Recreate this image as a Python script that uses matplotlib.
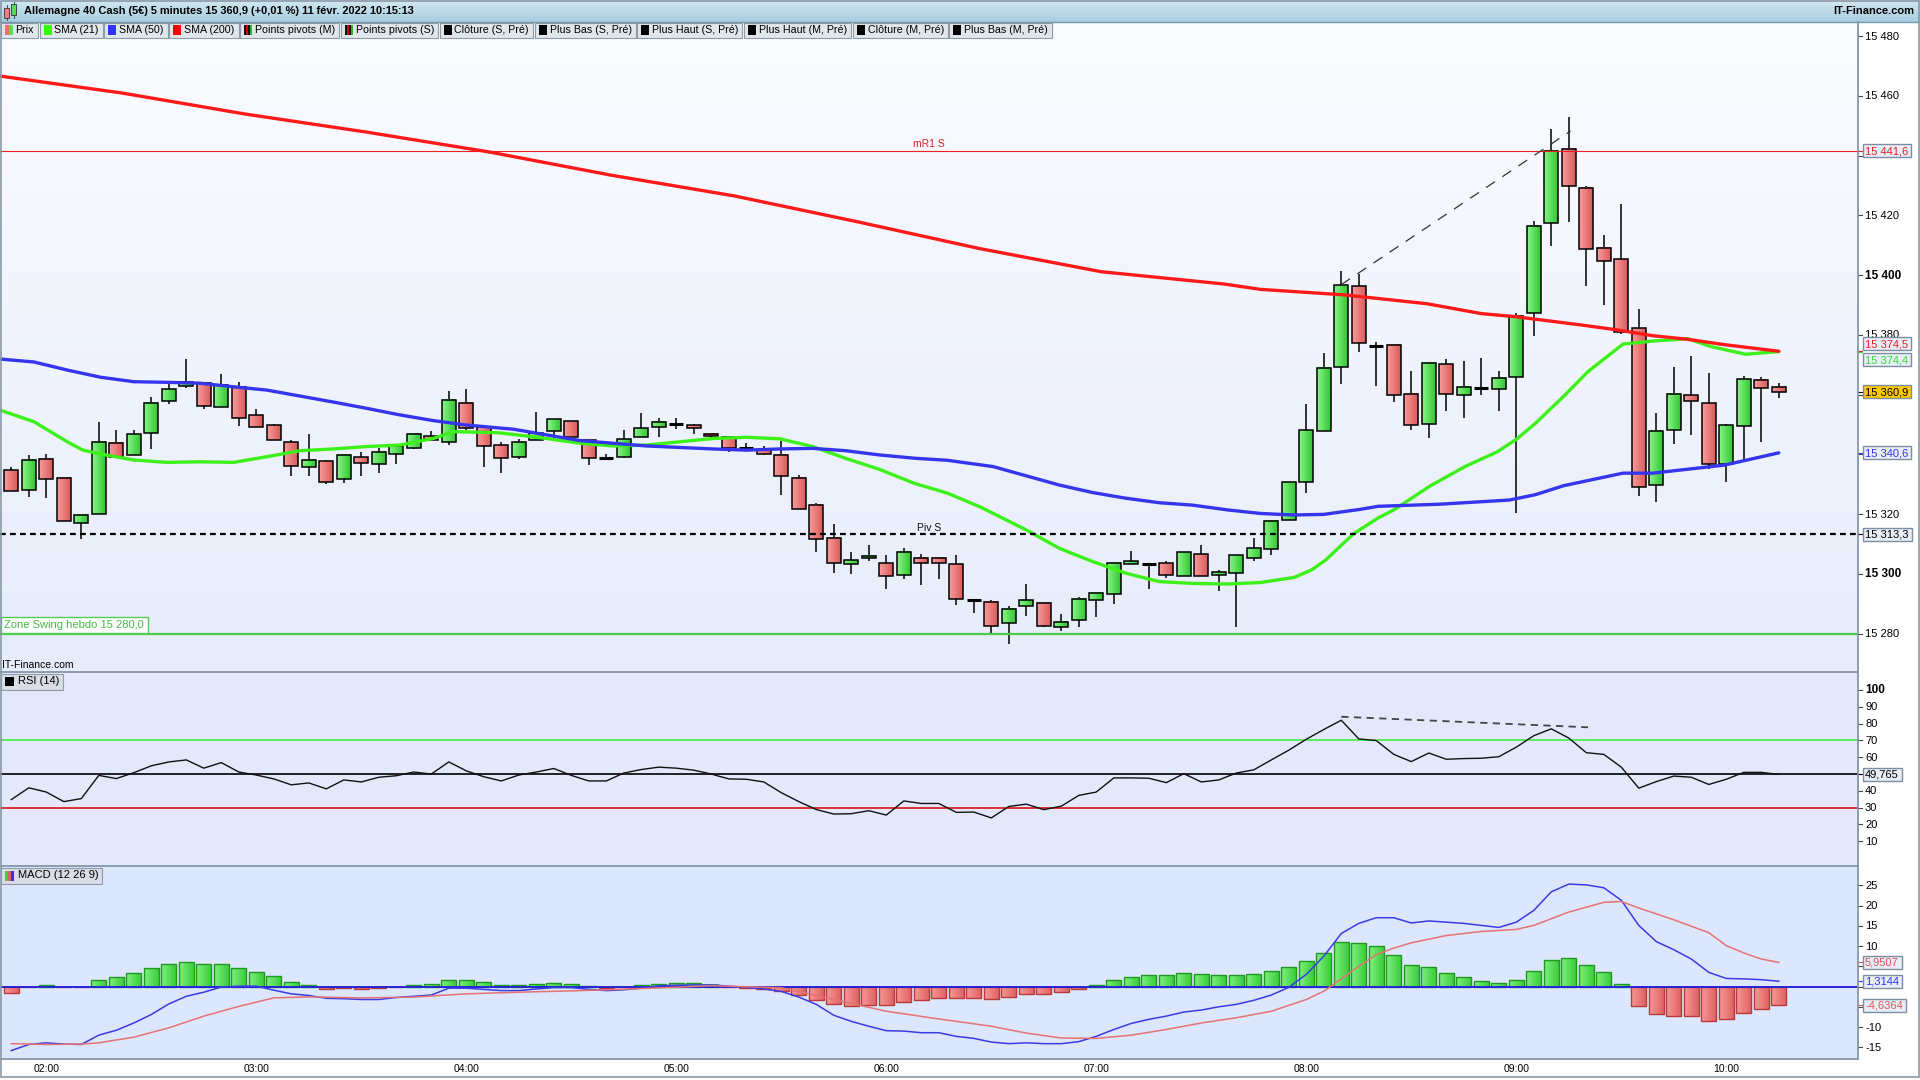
import numpy as np
import matplotlib
matplotlib.use("Agg")
import matplotlib.pyplot as plt
from matplotlib.patches import Rectangle
from matplotlib.lines import Line2D
from matplotlib.colors import LinearSegmentedColormap
import matplotlib.transforms as mtransforms

plt.rcParams['font.family'] = ['Liberation Sans', 'DejaVu Sans']

# ---------------- DATA ----------------
first_bar = "01:50"
bar_minutes = 5
time_labels = ["02:00", "03:00", "04:00", "05:00", "06:00", "07:00", "08:00", "09:00", "10:00"]

opens = [15334.6, 15327.9, 15338.6, 15332.0, 15316.9, 15319.9, 15343.7, 15339.7, 15347.0, 15357.7,
         15362.9, 15363.8, 15355.7, 15362.6, 15353.0, 15349.7, 15344.0, 15335.6, 15337.6, 15331.6,
         15339.0, 15336.6, 15340.0, 15342.0, 15346.0, 15344.0, 15357.1, 15349.0, 15343.0, 15339.0,
         15344.7, 15347.7, 15351.0, 15344.7, 15339.0, 15339.0, 15345.7, 15349.0, 15350.0, 15349.7,
         15346.7, 15345.7, 15342.0, 15341.3, 15339.7, 15332.0, 15322.9, 15311.9, 15303.2, 15305.2,
         15303.5, 15299.5, 15305.2, 15305.2, 15303.2, 15291.1, 15290.5, 15283.4, 15289.1, 15290.1,
         15282.1, 15284.4, 15291.1, 15293.1, 15303.2, 15303.2, 15303.5, 15299.2, 15306.5, 15299.5,
         15300.2, 15305.2, 15308.2, 15317.9, 15330.6, 15347.7, 15369.2, 15396.2, 15376.4, 15376.5,
         15360.1, 15350.1, 15370.1, 15359.7, 15362.1, 15361.8, 15365.8, 15387.2, 15417.4, 15442.1,
         15429.3, 15409.2, 15405.3, 15382.2, 15329.6, 15348.0, 15359.7, 15357.1, 15336.7, 15349.5,
         15364.8, 15362.7]
highs = [15335.6, 15339.8, 15340.1, 15332.0, 15319.6, 15350.8, 15348.1, 15348.1, 15359.1, 15363.5,
         15371.9, 15363.8, 15366.9, 15364.1, 15355.2, 15350.0, 15344.8, 15346.7, 15338.1, 15339.7,
         15340.7, 15342.0, 15342.7, 15346.7, 15347.8, 15361.1, 15361.7, 15349.0, 15344.0, 15345.0,
         15354.2, 15351.7, 15351.0, 15344.7, 15340.0, 15348.1, 15353.8, 15352.1, 15352.1, 15350.0,
         15346.7, 15345.7, 15343.7, 15342.7, 15344.3, 15333.0, 15323.6, 15316.6, 15307.2, 15309.5,
         15306.2, 15308.5, 15306.5, 15305.2, 15306.2, 15291.1, 15291.1, 15289.2, 15296.5, 15290.1,
         15286.4, 15292.1, 15293.5, 15303.5, 15307.6, 15303.2, 15304.2, 15307.2, 15309.5, 15301.2,
         15306.2, 15311.9, 15317.9, 15330.6, 15356.8, 15373.8, 15401.2, 15400.4, 15377.6, 15376.5,
         15367.9, 15370.7, 15371.9, 15371.2, 15372.3, 15367.8, 15387.4, 15418.2, 15448.8, 15452.9,
         15429.7, 15413.4, 15423.8, 15388.7, 15353.8, 15369.2, 15372.9, 15367.3, 15350.1, 15366.2,
         15365.8, 15363.9]
lows = [15327.6, 15325.8, 15325.5, 15317.6, 15311.5, 15319.9, 15339.0, 15339.7, 15341.7, 15356.7,
        15362.1, 15355.1, 15355.7, 15349.6, 15349.0, 15344.7, 15332.9, 15332.9, 15330.0, 15330.5,
        15332.9, 15333.9, 15336.9, 15341.7, 15344.7, 15343.0, 15348.0, 15335.9, 15333.9, 15338.5,
        15344.7, 15344.7, 15345.7, 15336.5, 15338.7, 15338.7, 15345.7, 15345.9, 15348.6, 15346.7,
        15344.7, 15340.7, 15342.0, 15339.7, 15326.5, 15321.6, 15307.4, 15300.4, 15300.1, 15304.4,
        15295.0, 15298.2, 15296.4, 15298.4, 15289.5, 15287.0, 15280.3, 15276.4, 15286.0, 15282.1,
        15281.0, 15282.1, 15285.4, 15290.0, 15303.2, 15295.0, 15298.5, 15299.2, 15299.2, 15294.1,
        15282.1, 15304.2, 15306.2, 15317.9, 15326.9, 15347.7, 15363.6, 15374.1, 15363.0, 15357.6,
        15348.0, 15345.6, 15354.6, 15352.0, 15360.0, 15354.6, 15320.5, 15379.5, 15409.6, 15417.6,
        15396.4, 15390.1, 15380.3, 15325.9, 15323.9, 15343.6, 15346.6, 15335.1, 15330.6, 15338.5,
        15344.2, 15358.7]
closes = [15327.6, 15338.0, 15331.6, 15317.6, 15319.6, 15344.0, 15339.0, 15346.7, 15357.1, 15361.7,
          15364.3, 15356.1, 15363.2, 15352.0, 15349.0, 15344.7, 15336.0, 15338.0, 15330.6, 15339.7,
          15337.0, 15340.7, 15342.7, 15346.7, 15344.7, 15358.1, 15348.7, 15342.7, 15338.7, 15344.0,
          15347.2, 15351.7, 15345.7, 15338.7, 15338.7, 15345.0, 15348.7, 15350.7, 15350.0, 15348.7,
          15346.0, 15342.0, 15342.0, 15340.0, 15332.6, 15321.6, 15311.5, 15303.5, 15304.5, 15306.1,
          15299.2, 15307.2, 15303.5, 15303.5, 15291.5, 15291.1, 15282.4, 15288.4, 15291.1, 15282.4,
          15284.0, 15291.5, 15293.5, 15303.5, 15304.2, 15303.2, 15299.5, 15307.2, 15299.2, 15300.5,
          15306.2, 15308.5, 15317.6, 15330.6, 15348.0, 15368.8, 15396.6, 15377.2, 15376.4, 15359.7,
          15349.7, 15370.7, 15360.1, 15362.7, 15362.1, 15365.7, 15386.4, 15416.5, 15441.6, 15429.7,
          15408.6, 15404.6, 15381.1, 15329.0, 15347.7, 15360.1, 15357.7, 15336.7, 15349.7, 15365.1,
          15362.1, 15360.9]

# moving averages, read at bar positions
sma21_pos = [-0.65, 1.3, 3.2, 4.1, 5.1, 7.0, 8.9, 10.8, 12.7, 14.6, 16.5, 18.4, 20.3, 22.2, 24.1, 25.3,
             27.9, 30.6, 32.5, 34.4, 36.3, 38.2, 40.1, 42.0, 43.9, 45.8, 47.7, 49.6, 51.6, 53.5, 55.4,
             58.0, 59.9, 61.8, 63.7, 65.6, 67.5, 69.5, 71.4, 73.3, 74.3, 75.1, 76.7, 78.1, 79.0, 81.1,
             83.1, 84.9, 86.0, 87.1, 88.7, 90.1, 92.1, 93.8, 95.8, 97.1, 99.1, 101.0]
sma21_val = [15354.8, 15350.9, 15344.2, 15341.4, 15340.1, 15338.1, 15337.3, 15337.5, 15337.3, 15339.2,
             15341.2, 15341.8, 15342.6, 15343.1, 15345.3, 15347.6, 15347.2, 15345.3, 15343.7, 15342.8,
             15343.1, 15344.2, 15345.3, 15345.7, 15345.2, 15342.6, 15338.6, 15335.0, 15330.3, 15327.0,
             15322.3, 15314.7, 15308.5, 15304.1, 15300.2, 15297.4, 15296.8, 15296.6, 15297.1, 15298.8,
             15301.3, 15304.6, 15313.4, 15318.7, 15321.4, 15329.5, 15336.0, 15340.8, 15345.0, 15350.4,
             15359.4, 15367.7, 15376.9, 15377.9, 15378.7, 15376.1, 15373.5, 15374.4]
sma50_pos = [-0.65, 1.3, 3.2, 5.1, 7.0, 8.9, 10.8, 12.7, 14.6, 16.5, 18.4, 20.3, 22.2, 24.1, 26.0, 28.7,
             30.6, 32.5, 34.4, 36.3, 38.2, 40.1, 42.0, 43.9, 45.8, 47.7, 49.6, 51.6, 53.5, 56.1, 58.0,
             59.9, 61.8, 63.7, 65.6, 67.5, 69.5, 71.4, 73.3, 75.0, 77.1, 78.1, 81.6, 85.6, 87.1, 88.7,
             92.1, 93.8, 97.9, 101.0]
sma50_val = [15371.9, 15370.9, 15368.2, 15365.8, 15364.3, 15364.1, 15363.8, 15362.6, 15361.5, 15359.5,
             15357.5, 15355.4, 15353.2, 15351.3, 15349.8, 15348.4, 15346.5, 15344.6, 15343.7, 15342.8,
             15342.3, 15341.8, 15341.4, 15341.8, 15342.0, 15341.2, 15339.8, 15338.7, 15338.0, 15335.9,
             15332.8, 15329.7, 15327.2, 15325.3, 15323.8, 15323.0, 15321.4, 15320.2, 15319.7, 15319.9,
             15321.6, 15322.6, 15323.3, 15324.7, 15326.5, 15329.5, 15333.7, 15333.7, 15336.4, 15340.5]
sma200_pos = [-0.65, 6.35, 13.35, 20.35, 27.3, 34.3, 41.3, 48.3, 55.3, 62.3, 69.3, 71.4, 76.1, 80.9,
              84.0, 85.9, 89.7, 91.7, 93.8, 95.8, 97.9, 101.0]
sma200_val = [15466.6, 15460.9, 15453.9, 15447.8, 15441.2, 15433.4, 15426.5, 15417.9, 15408.9, 15401.1,
              15397.0, 15395.2, 15393.4, 15390.4, 15387.1, 15386.1, 15383.3, 15381.7, 15379.7, 15378.5,
              15376.7, 15374.5]

rsi_vals = [34.8, 41.8, 39.3, 33.6, 35.4, 49.2, 47.3, 50.8, 54.9, 57.2,
            58.4, 53.5, 56.8, 51.2, 49.4, 47.1, 43.6, 44.7, 41.2, 46.5,
            45.3, 48.1, 49.0, 51.2, 50.0, 57.2, 51.9, 48.4, 45.9, 49.4,
            51.2, 53.3, 49.2, 45.9, 45.9, 50.6, 52.7, 54.1, 53.5, 52.3,
            50.0, 47.1, 46.9, 45.3, 38.9, 33.6, 28.9, 26.2, 26.4, 28.2,
            25.6, 34.0, 32.5, 32.5, 27.2, 27.4, 23.9, 30.7, 32.1, 28.8,
            30.9, 37.3, 39.3, 47.7, 47.7, 47.5, 44.9, 50.2, 45.3, 46.5,
            50.6, 52.5, 58.4, 64.2, 70.7, 76.5, 82.0, 70.9, 69.9, 61.7,
            57.4, 62.5, 58.8, 59.2, 59.4, 60.3, 66.0, 72.8, 76.9, 71.4,
            62.7, 61.7, 54.1, 41.6, 45.5, 48.8, 48.1, 43.8, 46.9, 51.0,
            51.0, 49.8]

macd_vals = [-15.8, -14.3, -13.9, -14.2, -14.3, -12.0, -10.8, -9.0, -6.9, -4.3,
             -2.4, -1.4, -0.1, 0.1, 0.1, -0.9, -1.8, -2.2, -2.9, -3.0,
             -3.2, -3.2, -2.7, -2.4, -2.1, -0.4, -0.4, -0.7, -1.0, -1.0,
             -0.6, -0.25, -0.25, -0.7, -1.0, -0.8, -0.4, 0.2, 0.3, 0.4,
             0.4, 0.1, -0.2, -0.6, -1.2, -2.6, -4.4, -7.1, -8.6, -9.8,
             -10.9, -11.0, -11.4, -11.4, -12.3, -12.8, -13.7, -14.1, -13.9, -14.1,
             -14.1, -13.6, -12.3, -10.6, -9.1, -8.1, -7.3, -6.3, -5.8, -5.0,
             -4.4, -3.4, -2.1, -0.2, 3.0, 7.5, 13.1, 15.6, 17.0, 17.0,
             15.7, 16.2, 15.9, 15.6, 15.1, 14.6, 15.9, 18.8, 23.4, 25.3,
             25.1, 24.4, 21.3, 15.1, 11.1, 9.1, 6.8, 3.5, 2.0, 1.9,
             1.7, 1.31]
signal_pos = [0, 2, 4, 5, 7, 9, 11, 13, 15, 17, 20, 23, 26, 29, 32, 35, 38, 40, 44, 47, 50, 53, 56,
              58, 60, 62, 64, 66, 68, 70, 72, 74, 75, 76, 77, 78, 79, 80, 82, 84, 86, 87, 89, 91, 92,
              93, 95, 97, 98, 99, 100, 101]
signal_vals = [-14.1, -14.3, -14.2, -13.9, -12.5, -10.2, -7.3, -4.9, -2.8, -2.55, -2.8, -2.6, -1.8,
               -1.4, -1.07, -0.66, -0.16, 0.2, -0.3, -3.2, -6.1, -8.0, -9.8, -11.5, -12.7, -12.8, -12.0,
               -10.6, -9.0, -7.7, -6.1, -3.2, -1.15, 1.9, 5.0, 7.9, 9.5, 10.8, 12.6, 13.6, 14.1, 15.1,
               18.4, 20.8, 21.0, 19.4, 16.5, 13.3, 10.1, 8.3, 6.8, 5.95]
hist_vals = [-1.65, 0.0, 0.41, 0.0, 0.0, 1.65, 2.39, 3.37, 4.6, 5.6,
             6.1, 5.6, 5.6, 4.6, 3.6, 2.63, 1.15, 0.41, -0.58, -0.41,
             -0.58, -0.33, 0.0, 0.41, 0.66, 1.65, 1.65, 1.15, 0.41, 0.41,
             0.66, 0.9, 0.66, 0.16, -0.33, 0.0, 0.41, 0.66, 0.9, 0.9,
             0.5, -0.1, -0.4, -0.58, -1.07, -2.06, -3.2, -4.3, -4.8, -4.5,
             -4.5, -3.8, -3.3, -2.8, -2.8, -2.8, -3.05, -2.55, -1.8, -1.8,
             -1.3, -0.58, 0.41, 1.65, 2.39, 2.9, 2.9, 3.4, 3.1, 2.9,
             2.9, 3.1, 3.9, 4.9, 6.3, 8.3, 11.0, 10.8, 10.0, 7.8,
             5.3, 4.9, 3.4, 2.4, 1.4, 0.9, 1.65, 3.9, 6.6, 7.1,
             5.3, 3.6, 0.66, -4.8, -6.75, -7.2, -7.2, -8.5, -8.0, -6.5,
             -5.5, -4.64]

mr1_s = 15441.6
pivot_s = 15313.3
zone_swing = 15280.0
trend_pos = [76.0, 89.1]
trend_val = [15396.8, 15448.2]
rsi_div_pos = [76.0, 90.1]
rsi_div_val = [84.1, 77.8]

last_price = 15360.9
last_sma200 = 15374.5
last_sma21 = 15374.4
last_sma50 = 15340.6
legend_labels = ["Prix", "SMA (21)", "SMA (50)", "SMA (200)", "Points pivots (M)", "Points pivots (S)",
                 "Clôture (S, Pré)", "Plus Bas (S, Pré)", "Plus Haut (S, Pré)", "Plus Haut (M, Pré)",
                 "Clôture (M, Pré)", "Plus Bas (M, Pré)"]
legend_icons = ["prix", "#33ff00", "#3333ff", "#ff0000", "piv", "piv", "k", "k", "k", "k", "k", "k"]
title = "Allemagne 40 Cash (5€) 5 minutes 15 360,9 (+0,01 %) 11 févr. 2022 10:15:13"

# ---------------- FIGURE ----------------
W, H = 1920, 1080
fig = plt.figure(figsize=(W / 100, H / 100), dpi=100)
fig.patch.set_facecolor('white')
PX = mtransforms.Affine2D().scale(1 / W, -1 / H).translate(0, 1) + fig.transFigure
R = 1858


def t2i(t):
    h, m = map(int, t.split(':'))
    h0, m0 = map(int, first_bar.split(':'))
    return ((h * 60 + m) - (h0 * 60 + m0)) / bar_minutes


def panel(top, bottom):
    a = fig.add_axes([0, 1 - bottom / H, R / W, (bottom - top) / H])
    for s in a.spines.values():
        s.set_visible(False)
    a.set_xticks([])
    a.set_yticks([])
    return a


XL = (-0.646, 105.526)
ax = panel(22, 672)
ax_rsi = panel(672, 866)
ax_macd = panel(866, 1059)
ax.set_xlim(*XL); ax.set_ylim(15267.15, 15484.69)
ax_rsi.set_xlim(*XL); ax_rsi.set_ylim(-4.7, 110.7)
ax_macd.set_xlim(*XL); ax_macd.set_ylim(-17.89, 29.77)
for a in (ax, ax_rsi, ax_macd):
    a.set_autoscale_on(False)

ax_rsi.set_facecolor('#e3e9fb')
ax_macd.set_facecolor('#dce6fc')
bg = LinearSegmentedColormap.from_list('bg', ['#fbfcff', '#e6ecfa'])
ax.imshow(np.linspace(0, 1, 256)[:, None], cmap=bg, extent=[XL[0], XL[1], 15267.15, 15484.69],
          aspect='auto', zorder=0)

idx = np.arange(len(opens))
hgrad = np.linspace(0, 1, 64)[None, :]
red_cm = LinearSegmentedColormap.from_list('rc', ['#f99c9c', '#d95a5a'])
green_cm = LinearSegmentedColormap.from_list('gc', ['#8af58a', '#30c630'])

# candles
bw = 0.8
ax.vlines(idx, lows, highs, color='black', lw=1.1, zorder=2)
for i, o, c in zip(idx, opens, closes):
    lo, hi = min(o, c), max(o, c)
    if hi - lo < 0.5:
        ax.hlines((o + c) / 2, i - bw / 2, i + bw / 2, color='black', lw=2.2, zorder=3)
        continue
    cm = green_cm if c > o else red_cm
    ax.imshow(hgrad, cmap=cm, extent=[i - bw / 2, i + bw / 2, lo, hi], aspect='auto',
              zorder=2.5, interpolation='bilinear')
    ax.add_patch(Rectangle((i - bw / 2, lo), bw, hi - lo, fill=False, ec='black', lw=1.1, zorder=3))

# levels
ax.axhline(mr1_s, color='#ee2020', lw=0.8, zorder=4)
ax.axhline(zone_swing, color='#4ccc4c', lw=1.6, zorder=4)
ax.axhline(pivot_s, color='black', lw=1.6, dashes=(2.6, 1.9), zorder=6)
ax.annotate("mR1 S", (0.5, mr1_s), xycoords=ax.get_yaxis_transform(), xytext=(0, 1.5),
            textcoords='offset points', ha='center', va='bottom', fontsize=7.5, color='#e02020', zorder=6)
ax.annotate("Piv S", (0.5, pivot_s), xycoords=ax.get_yaxis_transform(), xytext=(0, 1.0),
            textcoords='offset points', ha='center', va='bottom', fontsize=7.5, color='#111', zorder=6)

# moving averages
ax.plot(sma21_pos, sma21_val, color='#3ef01a', lw=2.4, zorder=5, solid_capstyle='round')
ax.plot(sma50_pos, sma50_val, color='#3535ee', lw=2.4, zorder=5.1, solid_capstyle='round')
ax.plot(sma200_pos, sma200_val, color='#ff1a1a', lw=2.4, zorder=5.2, solid_capstyle='round')
ax.plot(trend_pos, trend_val, color='#333333', lw=0.9, dashes=(8.5, 7), zorder=6)

# RSI
ax_rsi.axhline(70, color='#33ee33', lw=1.1, zorder=2)
ax_rsi.axhline(50, color='black', lw=1.2, zorder=2)
ax_rsi.axhline(30, color='#dd0000', lw=1.1, zorder=2)
ax_rsi.plot(idx, rsi_vals, color='#111111', lw=1.0, zorder=4)
ax_rsi.plot(rsi_div_pos, rsi_div_val, color='#444444', lw=1.3, dashes=(4, 3), zorder=4)

# MACD
hred = LinearSegmentedColormap.from_list('hr', ['#f79a9a', '#e06262'])
hgreen = LinearSegmentedColormap.from_list('hg', ['#80f080', '#3acd3a'])
hb = 0.84
for i, v in zip(idx, hist_vals):
    if v == 0:
        continue
    ax_macd.imshow(hgrad, cmap=hgreen if v > 0 else hred,
                   extent=[i - hb / 2, i + hb / 2, min(0, v), max(0, v)], aspect='auto', zorder=2)
hist_arr = np.array(hist_vals)
ax_macd.bar(idx, hist_arr, width=hb, fill=False,
            edgecolor=['#1f9a1f' if v > 0 else '#b83a3a' for v in hist_arr], lw=1.0, zorder=2.5)
ax_macd.axhline(0, color='#2626d6', lw=1.4, zorder=3)
ax_macd.plot(idx, macd_vals, color='#3b3be6', lw=1.1, zorder=4)
ax_macd.plot(signal_pos, signal_vals, color='#e57373', lw=1.1, zorder=4)

for lab in time_labels:
    ax_macd.text(t2i(lab), -0.052, lab, transform=ax_macd.get_xaxis_transform(), ha='center',
                 va='center', fontsize=7.5, clip_on=False)

# ---------------- overlays in pixel space ----------------
renderer = fig.canvas.get_renderer()


def px_text(x, y, s, **kw):
    kw.setdefault('fontsize', 8)
    kw.setdefault('va', 'center')
    kw.setdefault('ha', 'left')
    kw.setdefault('zorder', 9)
    return fig.text(x, y, s, transform=PX, **kw)


def px_rect(x, y, w, h, **kw):
    r = Rectangle((x, y), w, h, transform=PX, **kw)
    fig.add_artist(r)
    return r


def px_line(xs, ys, **kw):
    l = Line2D(xs, ys, transform=PX, **kw)
    fig.add_artist(l)
    return l


def ypx(a, v):
    return H - a.transData.transform((0, v))[1]


def fmt(v, dec):
    s = f"{abs(v):,.{dec}f}".replace(',', ' ').replace('.', ',')
    return ('-' if v < 0 else '') + s


def tick(a, v, txt=None, bold=False):
    y = ypx(a, v)
    px_line([R, R + 4], [y, y], color='#444444', lw=0.8, zorder=8)
    if txt is not None:
        px_text(R + 7, y + 0.5, txt, fontsize=8.5 if bold else 8,
                fontweight='bold' if bold else 'normal', zorder=8)


def vbox(a, v, txt, color, fc='#e8edf6', dy=0):
    y0 = ypx(a, v)
    y = y0 + dy
    px_line([R, R + 4], [y0, y0], color=color, lw=0.8, zorder=8)
    t = px_text(R + 7, y + 0.5, txt, color=color, zorder=11)
    w = t.get_window_extent(renderer).width
    px_rect(R + 5, y - 6.5, w + 5, 13, fc=fc, ec='#7c8ea0', lw=1, zorder=10)


# main axis (labels hidden under value boxes are left out)
covered_main = {15440, 15360, 15340}
for v in range(15280, 15481, 20):
    tick(ax, v, None if v in covered_main else fmt(v, 0), bold=(v % 100 == 0))
vbox(ax, mr1_s, fmt(mr1_s, 1), '#e02020')
vbox(ax, last_sma200, fmt(last_sma200, 1), '#e02020', dy=-7.5)
vbox(ax, last_sma21, fmt(last_sma21, 1), '#33dd33', dy=8.0)
vbox(ax, last_price, fmt(last_price, 1), 'black', fc='#ffc800')
vbox(ax, last_sma50, fmt(last_sma50, 1), '#3333ff')
vbox(ax, pivot_s, fmt(pivot_s, 1), 'black')
# RSI axis
for v in range(10, 101, 10):
    tick(ax_rsi, v, None if v == 50 else str(v), bold=(v == 100))
vbox(ax_rsi, rsi_vals[-1], "49,765", 'black')
# MACD axis
for v in range(-15, 26, 5):
    tick(ax_macd, v, None if v in (-5, 0, 5) else str(v))
vbox(ax_macd, signal_vals[-1], "5,9507", '#e05555')
vbox(ax_macd, macd_vals[-1], "1,3144", '#3030ff')
vbox(ax_macd, hist_vals[-1], "-4,6364", '#e05555')

# frame lines
px_line([R, R], [22, 1059], color='#7f8fa0', lw=1.2, zorder=8)
for yy in (672, 866, 1059):
    px_line([0, R], [yy, yy], color='#7f8fa0', lw=1.2, zorder=8)
px_rect(0.8, 0.5, 1918.2, 1076.5, fill=False, ec='#8a99a6', lw=1.2, zorder=12)

# title bar
tax = fig.add_axes([0, 1 - 22 / H, 1, 22 / H])
tax.imshow(np.linspace(0, 1, 64)[:, None], cmap=LinearSegmentedColormap.from_list('t', ['#d3e8f1', '#a6cde0']),
           aspect='auto', extent=[0, 1, 0, 1])
tax.axis('off')
px_line([0, W], [22, 22], color='#7b97a8', lw=1, zorder=8)
px_text(24, 11.5, title, fontsize=7.95, fontweight='bold')
px_text(1914, 11.5, "IT-Finance.com", fontsize=8, fontweight='bold', ha='right')
px_rect(4, 8, 5, 10, fc='#f08080', ec='#333', lw=0.6, zorder=9)
px_line([6.5, 6.5], [5, 20], color='#333', lw=0.6, zorder=8.5)
px_rect(11, 4, 5, 11, fc='#55dd55', ec='#333', lw=0.6, zorder=9)
px_line([13.5, 13.5], [2, 18], color='#333', lw=0.6, zorder=8.5)

# legend buttons
x = 0.5
for lab, ic in zip(legend_labels, legend_icons):
    t = px_text(x + 15, 30, lab, fontsize=7.7, zorder=9)
    w = t.get_window_extent(renderer).width
    bwid = 15 + w + 4
    px_rect(x, 22.5, bwid, 15, fc='#e1e6ea', ec='#8d9ba7', lw=0.8, zorder=7)
    if ic == 'prix':
        px_rect(x + 4, 25, 4, 10, fc='#f07070', ec='none', zorder=8)
        px_rect(x + 8, 25, 4, 10, fc='#55dd55', ec='none', zorder=8)
    elif ic == 'piv':
        for k, col in enumerate(['#111111', '#dd0000', '#111111', '#22bb22']):
            px_rect(x + 4 + 2 * k, 25, 2, 10, fc=col, ec='none', zorder=8)
    else:
        px_rect(x + 4, 25, 8, 10, fc=ic, ec='none', zorder=8)
    x += bwid + 1.5

# zone swing label
zy = ypx(ax, zone_swing)
zt = px_text(4, zy - 8.5, "Zone Swing hebdo 15 280,0", fontsize=8, color='#44bb44', zorder=9)
zw = zt.get_window_extent(renderer).width
px_rect(0.8, zy - 16.3, zw + 7, 16, fc='white', ec='#55cc55', lw=1, zorder=8)

# panel labels
px_text(2, 665.5, "IT-Finance.com", fontsize=7.5, zorder=9)
rt = px_text(18, 681.5, "RSI (14)", fontsize=8, zorder=9)
rw = rt.get_window_extent(renderer).width
px_rect(0.8, 673.5, rw + 21, 16, fc='#d9dee6', ec='#8d9ba7', lw=0.8, zorder=8)
px_rect(5, 677, 9, 9, fc='black', ec='none', zorder=9)
mt = px_text(18, 875.5, "MACD (12 26 9)", fontsize=8, zorder=9)
mw = mt.get_window_extent(renderer).width
px_rect(0.8, 867.5, mw + 21, 16, fc='#d9dee6', ec='#8d9ba7', lw=0.8, zorder=8)
for k, col in enumerate(['#44cc44', '#e06060', '#3333ee']):
    px_rect(5 + 3 * k, 870.5, 3, 10, fc=col, ec='none', zorder=9)

fig.savefig("out.png", dpi=100)
